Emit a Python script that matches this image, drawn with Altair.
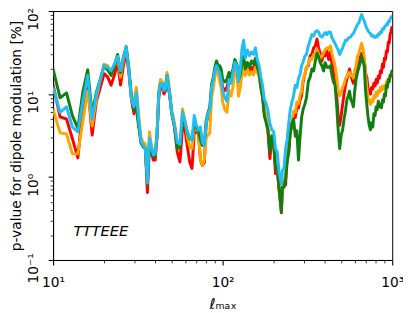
import altair as alt
import pandas as pd

# multipole grid (ell_max)
ells = [10, 11, 12, 13, 14, 15, 16, 17, 18, 19,
        20, 21, 22, 23, 24, 25, 26, 27, 28, 29,
        30, 31, 32, 33, 34, 35, 36, 37, 38, 39,
        40, 41, 42, 43, 44, 45, 46, 47, 48, 49, 50,
        52, 54, 56, 58, 60, 62, 64, 66, 68, 70, 72, 74, 76, 78, 80,
        82, 84, 86, 88, 90, 92, 94, 96, 98, 100,
        103, 106, 109, 112, 115, 118, 121, 124, 127, 130, 133, 136,
        140, 144, 148, 152, 156, 160, 164, 168, 172, 176, 180,
        185, 190, 195, 200, 205, 210, 215, 219, 222, 225, 230, 235, 240, 245, 250,
        256, 262, 268, 274, 280, 286, 292, 298,
        305, 312, 320, 328, 336, 344, 352, 360, 368, 376,
        385, 394, 402, 412, 422, 432, 441, 450,
        460, 470, 480, 490, 500, 510, 520, 530, 540, 550, 560, 570, 580, 590, 600,
        612, 624, 636, 648, 660, 672, 684, 696, 708, 720,
        732, 744, 756, 768, 780, 792, 804, 816, 828, 840,
        852, 864, 876, 888, 900, 912, 924, 936, 948, 960,
        972, 984, 996,
        1000]

red = [13, 5.3, 5.0, 2.9, 1.7, 7.2, 13, 3.2, 8.2, 12,
       17.6, 16, 12.8, 17, 23.9, 12.8, 22, 31.3, 18, 8.5,
       5.8, 9.8, 4.4, 2.6, 2.4, 2.2, 0.65, 2.4, 2.0, 1.6,
       1.6, 3.0, 9, 13, 12, 10, 11, 15, 12, 8.5, 6.0,
       4.0, 2.0, 1.52, 4.0, 3.7, 2.3, 1.5, 1.27, 3.5, 3.5, 3.3, 1.6, 1.38, 1.5, 4.4,
       5.5, 6.3, 11, 14.6, 18, 21.9, 20, 20, 16, 12,
       11, 12, 16, 14, 18, 24, 22.8, 14, 16, 22, 24, 18,
       22, 18, 21, 19, 25, 20, 18, 12.5, 9.5, 6, 5.3,
       3.5, 1.67, 3.0, 2.6, 1.1, 1.2, 0.7, 0.5, 0.37, 0.75, 0.8, 0.8, 1.7, 1.9, 3.3,
       4.2, 5.8, 5.2, 7.0, 6.8, 8.5, 9.5, 14,
       17, 21, 22, 29, 30, 36, 38, 46, 36, 31,
       25, 31, 29, 33, 26, 32, 23, 19,
       15, 10, 5.3, 4.2, 5.5, 7.5, 10, 12.8, 15, 17.5, 20, 16.5, 15, 13.5, 17,
       19, 23, 22, 28, 31, 28, 26, 18, 16, 11.7,
       11, 10, 12, 11.5, 13.5, 12.5, 15, 13.5, 16.5, 15.5,
       19, 18, 23, 21, 27, 26, 33, 32, 42, 41,
       52, 57, 64,
       65]

orange = [6.5, 3.4, 3.3, 1.9, 1.9, 4.8, 10.8, 4.1, 9.0, 15,
          22.8, 22, 18.2, 22, 27.2, 15.9, 26, 35.6, 20, 9.5,
          8.2, 12, 5.5, 3.0, 2.6, 2.5, 0.88, 3.5, 2.4, 1.9,
          2.0, 3.3, 11, 15, 14, 12, 13, 18.2, 14, 9.5, 6.5,
          4.5, 2.6, 2.4, 6.6, 4.8, 3.0, 2.3, 2.2, 4.0, 3.8, 3.5, 1.6, 1.38, 1.6, 3.0,
          3.2, 3.4, 9, 11.7, 16, 20, 18, 14, 12, 8.0,
          6.5, 6.0, 11, 9.5, 12, 21, 19, 9.4, 12, 17, 22.8, 16.7,
          20, 17, 18.5, 17, 21, 18, 16.5, 12, 10, 6.5, 5.8,
          3.8, 2.4, 3.2, 2.8, 1.6, 1.4, 0.8, 0.55, 0.42, 0.8, 0.85, 1.1, 2.0, 2.6, 3.7,
          4.6, 6.2, 6.0, 8.0, 7.6, 9.5, 10.8, 15,
          17, 21, 23, 27, 26, 30, 29, 35, 30, 27,
          28.5, 31, 34, 36, 35, 38, 31, 26,
          22, 16, 11, 9.5, 10.5, 12, 13, 15.3, 16, 18, 18.2, 16.5, 17, 15.5, 19,
          22, 28.5, 31, 36, 41, 35, 28.5, 18, 12, 9.0,
          8.0, 7.5, 8.5, 8.0, 9.5, 9.0, 10.5, 9.5, 11, 10.5,
          12, 11, 12.5, 11.5, 12.5, 12, 14, 13, 15, 14.5,
          16.5, 16, 18,
          17]

green = [20, 9.0, 10.3, 5.5, 3.85, 10.8, 19.6, 5.8, 10.5, 15,
         21.9, 19.5, 16.7, 22, 29.9, 18.2, 28, 37.3, 20, 9,
         6.3, 6.5, 4.0, 2.6, 2.3, 2.2, 0.82, 2.6, 2.2, 1.75,
         1.8, 3.1, 10, 13.4, 13, 11, 11.5, 16.7, 12, 9.0, 6.0,
         4.0, 2.2, 2.3, 4.6, 4.4, 3.4, 2.9, 2.8, 4.4, 3.9, 3.6, 2.8, 2.4, 2.6, 4.8,
         6.0, 7.0, 13, 15.9, 21, 25, 22, 22, 20, 15,
         14, 15, 18.2, 16, 20, 26, 23, 14.6, 17, 24, 28.5, 20,
         24, 21, 25, 23, 27, 21, 18, 12, 9, 5.5, 4.6,
         3.7, 2.0, 3.1, 2.6, 1.27, 1.3, 0.75, 0.5, 0.38, 0.75, 0.75, 0.95, 1.5, 2.0, 3.37,
         4.4, 5.0, 3.1, 3.6, 1.6, 3.0, 5.2, 6.5,
         7.5, 9, 14, 16, 20, 19, 25, 31, 28, 24,
         21.9, 19, 23.9, 21, 21, 21.9, 17, 14,
         12.8, 7.5, 3.7, 2.2, 3.2, 3.7, 5.0, 6.3, 8.5, 9.5, 10.8, 8.5, 8.0, 7.0, 10.5,
         15, 18.2, 21, 24, 28.5, 25, 21.9, 11, 7.5, 5.3,
         4.2, 3.7, 4.5, 4.0, 5.8, 5.5, 7.0, 6.5, 8.2, 7.0,
         7.5, 6.8, 8.5, 8.0, 10, 9.5, 12.8, 12, 15, 14,
         17, 16.5, 19,
         19]

blue = [12, 6.0, 7.0, 4.0, 3.5, 8.2, 16.7, 5.0, 9.9, 15,
        21.9, 21, 19.1, 23, 28.5, 19.1, 27, 37, 19, 8.5,
        7.0, 10.5, 4.8, 2.7, 2.4, 2.2, 0.85, 2.95, 2.3, 1.85,
        1.9, 3.1, 10, 13.4, 13.5, 11, 11.5, 16.7, 12.5, 9.0, 6.0,
        4.2, 2.6, 2.5, 6.1, 4.6, 3.5, 3.0, 2.8, 5.5, 4.2, 3.7, 4.0, 2.6, 2.4, 4.4,
        5.8, 6.5, 12, 14.6, 19, 21.9, 20, 18, 15, 11,
        9, 8.2, 15, 13.4, 18, 24, 21.9, 14, 20, 35, 44.5, 27,
        34, 29, 32, 30, 36, 26, 22, 16, 12.5, 8.6, 7.8,
        6.3, 4.4, 3.7, 3.5, 2.2, 2.0, 1.16, 0.95, 0.82, 1.2, 1.27, 2.2, 2.8, 4.4, 6.3,
        8.0, 9.5, 12.8, 12, 15.4, 17, 21.9, 24,
        28.5, 30, 38, 44.5, 52, 50, 56, 58, 55.6, 50,
        48.6, 52, 55, 52, 56, 55.6, 48, 44,
        40.8, 37, 34, 30, 33, 36, 40, 44.5, 44, 47, 48, 49, 52, 53.5, 58,
        63, 69, 72, 82, 90.6, 82, 75.9, 68, 62, 58,
        55, 53.5, 50, 51, 48.6, 48, 50, 49, 53, 52,
        56, 55, 61, 60, 64, 66, 69, 68, 75, 74,
        80, 84, 87,
        88]

for arr in (red, orange, green, blue):
    assert len(arr) == len(ells), (len(arr), len(ells))

series_names = ["red", "orange", "green", "blue"]
series_colors = ["#ff0000", "#ffa500", "#0f800f", "#1fbef5"]

# tick positions / labels
x_ticks = [10, 20, 30, 40, 50, 60, 70, 80, 90,
           100, 200, 300, 400, 500, 600, 700, 800, 900, 1000]
y_ticks = [0.1, 0.2, 0.3, 0.4, 0.5, 0.6, 0.7, 0.8, 0.9,
           1, 2, 3, 4, 5, 6, 7, 8, 9,
           10, 20, 30, 40, 50, 60, 70, 80, 90, 100]

# annotation
note_ell = [13.2]
note_p = [0.197]
note_text = ["TTTEEE"]

rows = []
for name, vals in zip(series_names, (red, orange, green, blue)):
    for l, v in zip(ells, vals):
        rows.append({"ell": l, "p": v, "s": name})
df = pd.DataFrame(rows)
note_df = pd.DataFrame({"ell": note_ell, "p": note_p, "t": note_text})

FONT = "DejaVu Sans"

xscale = alt.Scale(type="log", domain=[10, 1000], nice=False)
yscale = alt.Scale(type="log", domain=[0.1, 100], nice=False)

xaxis = alt.Axis(
    values=x_ticks,
    labelExpr="datum.value == 10 ? '10¹' : datum.value == 100 ? '10²' : datum.value == 1000 ? '10³' : ''",
    tickSize={"condition": {"test": "datum.value == 10 || datum.value == 100 || datum.value == 1000", "value": 5}, "value": 3},
    tickWidth={"condition": {"test": "datum.value == 10 || datum.value == 100 || datum.value == 1000", "value": 1.1}, "value": 0.8},
    labelPadding=11,
    labelFlush=False,
    labelOverlap=False,
    labelBound=False,
    labelFontSize=14,
    title="ℓₘₐₓ",
    titleFontSize=15,
    titleFontWeight="normal",
    titleX=173,
    titleY=50,
    titleBaseline="alphabetic",
    titleAlign="center",
    grid=False,
)

yaxis = alt.Axis(
    values=y_ticks,
    labelExpr="datum.value == 0.1 ? '10⁻¹' : datum.value == 1 ? '10⁰' : datum.value == 10 ? '10¹' : datum.value == 100 ? '10²' : ''",
    tickSize={"condition": {"test": "datum.value == 0.1 || datum.value == 1 || datum.value == 10 || datum.value == 100", "value": 5}, "value": 3},
    tickWidth={"condition": {"test": "datum.value == 0.1 || datum.value == 1 || datum.value == 10 || datum.value == 100", "value": 1.1}, "value": 0.8},
    labelAngle=270,
    labelAlign="center",
    labelBaseline="alphabetic",
    labelPadding=11,
    labelOffset=8,
    labelFlush=False,
    labelOverlap=False,
    labelBound=False,
    labelFontSize=14,
    title="p-value for dipole modulation [%]",
    titleFontSize=14,
    titleFontWeight="normal",
    titleAngle=270,
    titleX=-33,
    titleY=127,
    titleBaseline="alphabetic",
    titleAlign="center",
    grid=False,
)

layers = []
for name, col in zip(series_names, series_colors):
    layers.append(
        alt.Chart(df)
        .transform_filter(alt.datum.s == name)
        .mark_line(color=col, strokeWidth=3, strokeJoin="round", clip=True)
        .encode(
            x=alt.X("ell:Q", scale=xscale, axis=xaxis),
            y=alt.Y("p:Q", scale=yscale, axis=yaxis),
        )
    )

note = (
    alt.Chart(note_df)
    .mark_text(font=FONT, fontSize=15, fontStyle="italic", align="left",
               baseline="alphabetic", color="black")
    .encode(
        x=alt.X("ell:Q", scale=xscale, axis=xaxis),
        y=alt.Y("p:Q", scale=yscale, axis=yaxis),
        text="t:N",
    )
)

chart = (
    alt.layer(*layers, note)
    .properties(
        width=346,
        height=254,
        padding={"left": 46, "top": 0, "right": 11, "bottom": 51},
        autosize=alt.AutoSizeParams(type="none"),
    )
    .configure_view(stroke="black", strokeWidth=1)
    .configure_axis(
        domainColor="black",
        domainWidth=1,
        tickColor="black",
        labelColor="black",
        titleColor="black",
        labelFont=FONT,
        titleFont=FONT,
    )
)

chart.save("out.html", embed_options={"renderer": "svg", "actions": False})
